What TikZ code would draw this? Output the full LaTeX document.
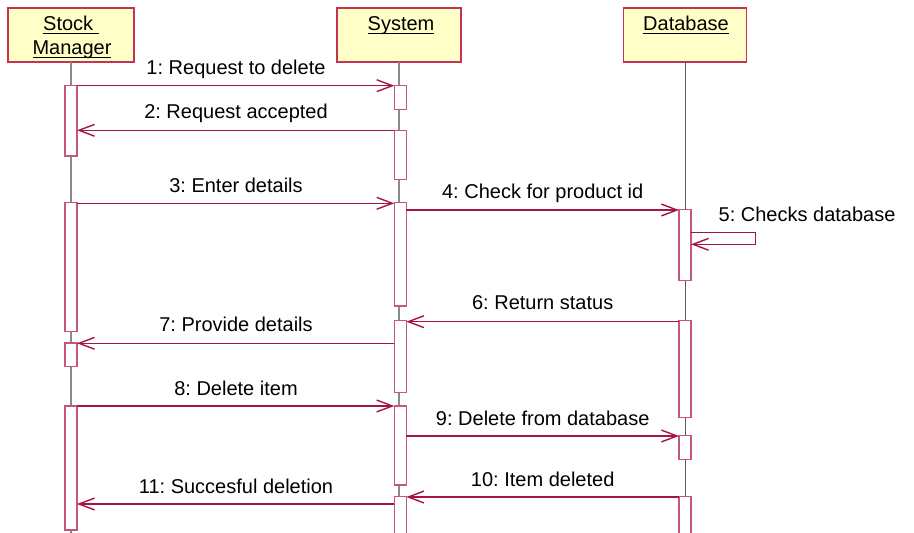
\documentclass[tikz,border=0pt]{standalone}
\usepackage{fontspec}
\setmainfont{Liberation Sans}
\usetikzlibrary{arrows.meta}
\frenchspacing
\definecolor{msgc}{HTML}{A3154A}
\definecolor{actc}{HTML}{C4577C}
\definecolor{hdrc}{HTML}{C23355}
\definecolor{hdrfill}{HTML}{FFFFC8}
\definecolor{lifec}{HTML}{8A8A8A}
\definecolor{lifed}{HTML}{5A5A5A}
\newcommand\ulword[1]{\underline{\smash{#1}}}
\newcommand\actbox[4]{\node[act, anchor=north, minimum height={(#4-#3)*0.5pt}] (#1) at (#2,#3) {};}
\begin{document}
\begin{tikzpicture}[x=0.5pt, y=-0.5pt,
  font=\fontsize{10}{12}\selectfont,
  hdr/.style={draw=hdrc, fill=hdrfill, line width=0.7pt, minimum height=27pt, inner sep=0pt, outer sep=0pt, anchor=north},
  act/.style={draw=actc, fill=white, line width=0.7pt, minimum width=6pt, inner sep=0pt, outer sep=0pt},
  life/.style={draw=lifec, line width=0.6pt},
  msg/.style={draw=msgc, line width=0.7pt, -{Straight Barb[length=7.8pt, width=5.9pt]}},
  lbl/.style={anchor=base, inner sep=0pt}
]
\useasboundingbox (0,0) rectangle (914,533);
% headers
\node[hdr, minimum width=63pt] (smh) at (71,8) {};
\node[hdr, minimum width=62pt] (sysh) at (399,8) {};
\node[hdr, minimum width=61.3pt] (dbh) at (685,8) {};
\node[lbl] (smt1) at (71,31) {\ulword{Stock\ }};
\node[lbl] (smt2) at (72,54.5) {\ulword{Manager}};
\node[lbl] (syst) at (401,31) {\ulword{System}};
\node[lbl] (dbt) at (686,31) {\ulword{Database}};
% lifelines
\draw[life] (smh.south) -- (smh.south |- 0,533);
\draw[life] (sysh.south) -- (sysh.south |- 0,533);
\draw[life, draw=lifed, line width=0.5pt] (dbh.south) -- (dbh.south |- 0,533);
% activation boxes
\actbox{sm1}{71}{85.7}{156}
\actbox{sm2}{71}{202.7}{331.3}
\actbox{sm3}{71}{343}{366.7}
\actbox{sm4}{71}{406}{530}
\actbox{sy1}{400.3}{85.7}{109.3}
\actbox{sy2}{400.3}{130.3}{179.3}
\actbox{sy3}{400.3}{202.7}{306}
\actbox{sy4}{400.3}{320.7}{392.3}
\actbox{sy5}{400.3}{406}{485}
\actbox{sy6}{400.3}{496.7}{540}
\actbox{db1}{685}{209.3}{280.7}
\actbox{db2}{685}{320.7}{417.7}
\actbox{db3}{685}{435.3}{459.3}
\actbox{db4}{685}{496.7}{540}
% message levels
\coordinate (m1) at (0,85.7);
\coordinate (m2) at (0,130.3);
\coordinate (m3) at (0,203.3);
\coordinate (m4) at (0,210);
\coordinate (s5a) at (755.3,232.3);
\coordinate (s5b) at (755.3,244.3);
\coordinate (m6) at (0,321.7);
\coordinate (m7) at (0,343.3);
\coordinate (m8) at (0,406);
\coordinate (m9) at (0,436);
\coordinate (m10) at (0,497);
\coordinate (m11) at (0,504);
% messages
\draw[msg] (sm1.east |- m1) -- (sy1.west |- m1);
\node[lbl] (l1) at (236,74.7) {1: Request to delete};
\draw[msg] (sy2.west |- m2) -- (sm1.east |- m2);
\node[lbl] (l2) at (236,118.5) {2: Request accepted};
\draw[msg] (sm2.east |- m3) -- (sy3.west |- m3);
\node[lbl] (l3) at (236,192.3) {3: Enter details};
\draw[msg] (sy3.east |- m4) -- (db1.west |- m4);
\node[lbl] (l4) at (542.7,199) {4: Check for product id};
\draw[msg] (db1.east |- s5a) -- (s5a) -- (s5b) -- (db1.east |- s5b);
\node[lbl, anchor=base west] (l5) at (718.3,221.7) {5: Checks database};
\draw[msg] (db2.west |- m6) -- (sy4.east |- m6);
\node[lbl] (l6) at (542.7,309.7) {6: Return status};
\draw[msg] (sy4.west |- m7) -- (sm3.east |- m7);
\node[lbl] (l7) at (236,331.7) {7: Provide details};
\draw[msg] (sm4.east |- m8) -- (sy5.west |- m8);
\node[lbl] (l8) at (236,395) {8: Delete item};
\draw[msg] (sy5.east |- m9) -- (db3.west |- m9);
\node[lbl] (l9) at (542.7,425) {9: Delete from database};
\draw[msg] (db4.west |- m10) -- (sy6.east |- m10);
\node[lbl] (l10) at (542.7,486) {10: Item deleted};
\draw[msg] (sy6.west |- m11) -- (sm4.east |- m11);
\node[lbl] (l11) at (236,493.3) {11: Succesful deletion};
\end{tikzpicture}
\end{document}
